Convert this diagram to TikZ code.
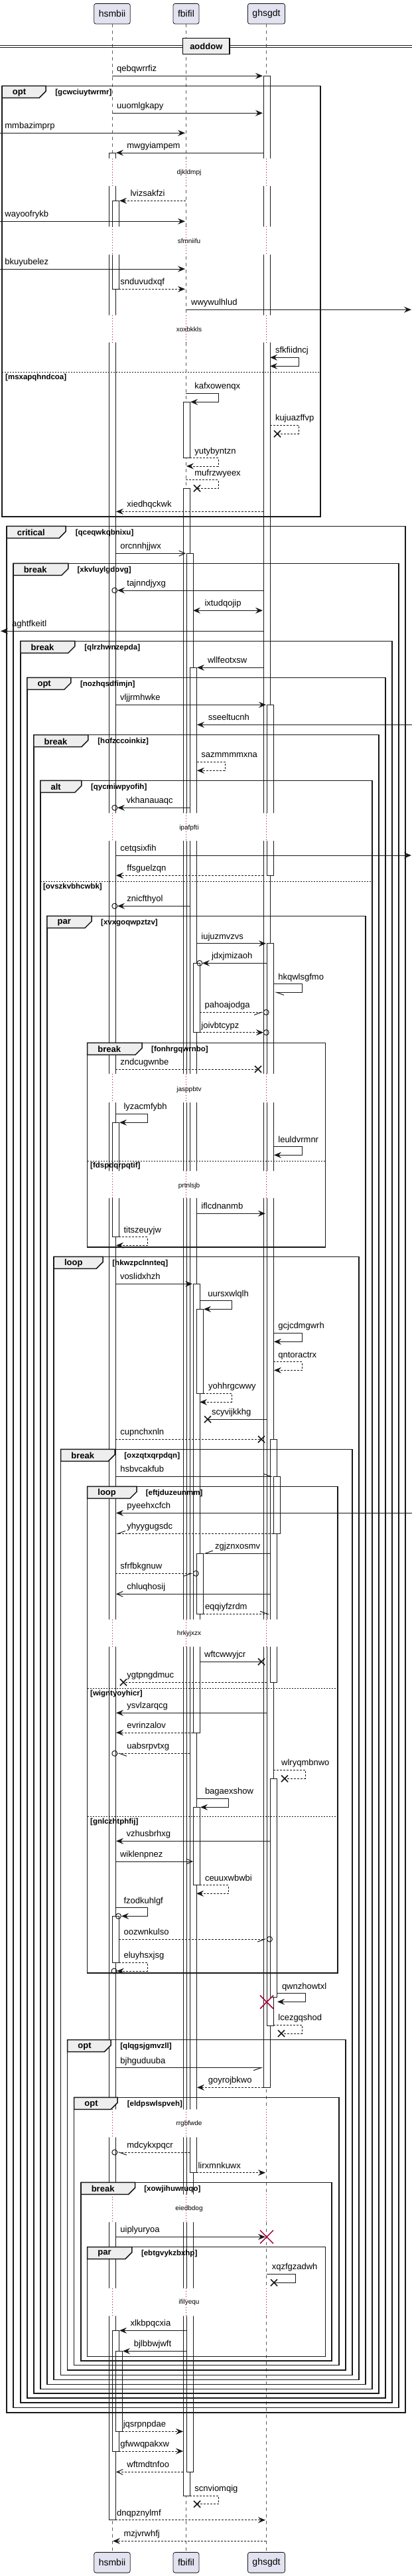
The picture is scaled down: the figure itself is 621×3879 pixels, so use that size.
\documentclass[tikz,border=0pt]{standalone}
\usepackage{fontspec}
\setmainfont{Liberation Sans}
\usetikzlibrary{arrows.meta}
\definecolor{partfill}{HTML}{E2E2F0}
\definecolor{partline}{HTML}{181818}
\definecolor{tabfill}{HTML}{EEEEEE}
\definecolor{delayred}{HTML}{A80036}
\tikzset{
  msg/.style={draw=partline, line width=1pt},
  syncmsg/.style={msg, -{Stealth[length=11pt,width=9pt,inset=4pt]}},
  retmsg/.style={syncmsg, dash pattern=on 3pt off 2pt},
  openmsg/.style={msg, -{Straight Barb[length=9pt,width=8pt]}},
  ropenmsg/.style={openmsg, dash pattern=on 3pt off 2pt},
  bothmsg/.style={msg, {Stealth[length=11pt,width=9pt,inset=4pt]}-{Stealth[length=11pt,width=9pt,inset=4pt]}},
  halfl/.style={msg, -{Straight Barb[harpoon,length=11pt,width=8pt]}},
  halfr/.style={msg, -{Straight Barb[harpoon,swap,length=11pt,width=8pt]}},
  rhalfl/.style={halfl, dash pattern=on 3pt off 2pt},
  rhalfr/.style={halfr, dash pattern=on 3pt off 2pt},
  lostmsg/.style={msg},
  rlostmsg/.style={msg, dash pattern=on 3pt off 2pt},
  life/.style={draw=partline!70, line width=0.8pt, dash pattern=on 5pt off 5pt},
  dlyline/.style={draw=delayred, line width=1pt, dash pattern=on 1pt off 3pt},
  act/.style={draw=partline, fill=white, line width=1pt},
  frm/.style={draw=partline, line width=1.5pt},
  tabbox/.style={frm, fill=tabfill},
  sepline/.style={draw=partline, line width=1pt, dash pattern=on 2pt off 2pt},
  xmark/.style={draw=partline, line width=1.6pt},
  bigx/.style={draw=delayred, line width=1.5pt},
  lbl/.style={anchor=base west, inner sep=0pt, font=\fontsize{13}{15}\selectfont},
  kwd/.style={anchor=west, inner sep=0pt, font=\bfseries\fontsize{13}{15}\selectfont},
  grd/.style={anchor=west, inner sep=0pt, font=\bfseries\fontsize{11.5}{13}\selectfont},
  dly/.style={inner sep=0pt, font=\fontsize{10}{12}\selectfont},
  part/.style={draw=partline, fill=partfill, rounded corners=3pt, line width=0.8pt,
    minimum height=30.7pt, inner xsep=7pt, font=\fontsize{14}{16}\selectfont},
  ttlbox/.style={draw=black, fill=tabfill, line width=1.5pt, minimum width=70.4pt,
    minimum height=24.4pt, font=\bfseries\fontsize{13}{15}\selectfont}
}
\begin{document}
\begin{tikzpicture}[x=1pt,y=-1pt]
\useasboundingbox (0,0) rectangle (621,3879);
\fill[white] (0,0) rectangle (621,3879);

\node[part] (p1) at (169,20.7) {hsmbii};
\node[part] (p2) at (280.5,20.7) {fbifil};
\node[part] (p3) at (401.5,20.7) {ghsgdt};
\node[part] (q1) at (169,3858.7) {hsmbii};
\node[part] (q2) at (280.5,3858.7) {fbifil};
\node[part] (q3) at (401.5,3858.7) {ghsgdt};
\foreach \from/\to in {p1/q1,p2/q2,p3/q3}
  \draw[life] (\from) -- (\to);

\draw[partline, line width=1pt] (0,68.5) -- (621,68.5) (0,71.5) -- (621,71.5);
\node[ttlbox] (ttl) at (310.8,69.5) {aoddow};

\foreach \x/\ya/\yb in {164/230/3794.7,169/302.3/435.3,169/1690.3/1862.7,169/2885.3/2955.3,
  169/3509.3/3691,174/3540.3/3661.3,
  276/605.3/689.7,276/735.3/3758,281/833.3/3722.3,286/1005.3/3271.7,291/1450.3/1554.7,
  291/1933.3/2609,291/2721.3/2838.7,296/1971.3/2098.3,296/2339/2430.3,
  397/114.3/3143.3,402/1061.3/1318.3,402/1420.7/3050.3,407/2167.3/2533.3,407/2678.3/3007,
  412/2223.3/2309.3}
  \draw[act] (\x,\ya) rectangle (\x+10,\yb);

\foreach \n/\ya/\yb/\txt/\ty in {1/238.7/280/djkldmpj/260,2/341.3/383.3/sfmniifu/363.3,
  3/474.7/515.7/xoxbkkls/496.3,4/1224.3/1266/ipafpfti/1246.7,5/1617/1660/jasppbtv/1640.7,
  6/1763.3/1804/prtnlsjb/1785.7,7/2438.7/2479.7/hrkyjxzx/2460.3,8/3176.3/3218.3/rrgbfwde/3198.3,
  9/3304.3/3346/eiedbdog/3326.3,10/3445.7/3487.3/ifilyequ/3467.3}{
  \fill[white] (159,\ya) rectangle (187,\yb) (270,\ya) rectangle (310,\yb) (391,\ya) rectangle (425,\yb);
  \foreach \lx in {169,280.5,401.5}
    \draw[dlyline] (\lx,\ya) -- (\lx,\yb);
  \node[dly] (d\n) at (285,\ty) {\txt};
}

\foreach \n/\xa/\xb/\ya/\yb/\xt/\kw/\gd/\gx in {
  1/3.2/483.2/129.3/778/69.2/opt/gcwciuytwrmr/83.2,
  2/10/611.2/792.3/3633/99.2/critical/qceqwkqbnixu/113.6,
  3/20/601.2/848.3/3625.7/102.8/break/xkvluylgdovg/116.4,
  4/30.8/591.2/965.3/3618/112.8/break/qlrzhwnzepda/127.2,
  5/40.8/581.2/1020.3/3611/106.8/opt/nozhqsdfimjn/120.8,
  6/50.8/571.2/1106.7/3604/132.8/break/hofzccoinkiz/147.2,
  7/60.8/561.2/1175.3/3597.3/122.8/alt/qycmiwpyofih/136.8,
  8/70.8/551.2/1379.3/3590.7/138/par/xvxgoqwpztzv/152,
  9/131.6/490.4/1570.3/1878/214/break/fonhrgqwrnbo/228,
  10/81.2/540.8/1892.3/3583.3/155.2/loop/hkwzpclnnteq/169.2,
  11/91.6/531.2/2182.3/3576.3/173.2/break/oxzqtxqrpdqn/187.2,
  12/131.6/508.8/2238.3/2971/206/loop/eftjduzeunmm/219.6,
  13/101.6/520.8/3071.7/3569/167.2/opt/qlqgsjgmvzll/181.2,
  14/111.6/510.8/3158.3/3561.7/177.2/opt/eldpswlspveh/191.6,
  15/122/500/3286.3/3555/203.6/break/xowjihuwruqo/217.2,
  16/131.6/490.4/3383.7/3548.3/198.8/par/ebtgvykzbxhp/212.8}{
  \draw[frm] (\xa,\ya) rectangle (\xb,\yb);
  \draw[tabbox] (\xa,\ya) -- (\xt,\ya) -- (\xt,\ya+8) -- (\xt-10,\ya+18) -- (\xa,\ya+18) -- cycle;
  \node[kwd] (k\n) at (\xa+15.6,\ya+10) {\kw};
  \node[grd] (g\n) at (\gx,\ya+10) {[\gd]};
}

\foreach \n/\y/\xa/\xb/\gd/\gx in {1/560.3/3.2/483.2/msxapqhndcoa/8,
  2/1327.3/60.8/561.2/ovszkvbhcwbk/64.8,3/1748/131.6/490.4/fdspdqrpqtif/136,
  4/2542.3/131.6/508.8/wigntyoyhicr/136,5/2735.3/131.6/508.8/gnlczhtphfij/136}{
  \draw[sepline] (\xa,\y) -- (\xb,\y);
  \node[grd] (e\n) at (\gx,\y+8) {[\gd]};
}

\foreach \n/\y/\xa/\xb/\st/\txt/\tx in {
  1/114.3/169/396/syncmsg/qebqwrrfiz/176,
  2/170.3/169/396/syncmsg/uuomlgkapy/176,
  3/200.3/0/279/syncmsg/mmbazimprp/7.2,
  4/230/397/175/syncmsg/mwgyiampem/191.2,
  5/302.3/280/180/retmsg/lvizsakfzi/196.4,
  6/333.3/0/279/syncmsg/wayoofrykb/7.2,
  7/405/0/279/syncmsg/bkuyubelez/7.2,
  8/435.3/179/279/retmsg/snduvudxqf/181.2,
  9/466.3/280/620/syncmsg/wwywulhlud/288,
  10/770.3/397/175/retmsg/xiedhqckwk/191.2,
  11/833.3/174/280/openmsg/orcnnhjjwx/181.2,
  12/889/397/177/syncmsg/tajnndjyxg/191.2,
  13/919.3/291/396/bothmsg/ixtudqojip/308.4,
  14/950.3/397/1/syncmsg/aghtfkeitl/18,
  15/1005.3/397/297/syncmsg/wllfeotxsw/312.8,
  16/1061.3/174/401/syncmsg/vljjrmhwke/180.8,
  17/1091.3/621/297/syncmsg/sseeltucnh/313.6,
  18/1216.3/286/177/syncmsg/vkhanauaqc/190.4,
  19/1288/174/620/syncmsg/cetqsixfih/181.2,
  20/1318.3/397/175/retmsg/ffsguelzqn/191.2,
  21/1364.3/286/177/syncmsg/znicfthyol/191.2,
  22/1420.7/296/401/syncmsg/iujuzmvzvs/303.2,
  23/1450.3/402/305/syncmsg/jdxjmizaoh/318.8,
  24/1524.3/301/397/rhalfr/pahoajodga/308.4,
  25/1554.7/301/397/retmsg/joivbtcypz/303.2,
  26/1610/174/389/rlostmsg/zndcugwnbe/181.2,
  27/1827.3/296/400/syncmsg/iflcdnanmb/303.2,
  28/1933.3/174/290/syncmsg/voslidxhzh/180.8,
  29/2137.3/402/313/lostmsg/scyvijkkhg/318.8,
  30/2167.3/174/394/rlostmsg/cupnchxnln/181.2,
  31/2223.3/174/411/halfl/hsbvcakfub/181.2,
  32/2278.3/621/175/syncmsg/pyeehxcfch/191.2,
  33/2309.3/412/175/rhalfr/yhyygugsdc/191.2,
  34/2339/407/307/halfr/zgjznxosmv/324,
  35/2369.3/174/291/rhalfr/sfrfbkgnuw/181.2,
  36/2400.3/407/175/openmsg/chluqhosij/191.2,
  37/2430.3/306/406/rhalfl/eqqiyfzrdm/308.8,
  38/2502.3/301/394/lostmsg/wftcwwyjcr/308,
  39/2533.3/402/186/rlostmsg/ygtpngdmuc/191.2,
  40/2579.3/402/175/syncmsg/ysvlzarqcg/191.2,
  41/2609/291/175/retmsg/evrinzalov/191.2,
  42/2640.3/286/177/rhalfl/uabsrpvtxg/191.2,
  43/2772.3/407/175/syncmsg/vzhusbrhxg/190.4,
  44/2803/174/291/openmsg/wiklenpnez/180.8,
  45/2920/179/402/rhalfr/oozwnkulso/186.4,
  46/3113.7/174/396/halfr/bjhguduuba/181.2,
  47/3143.3/397/297/retmsg/goyrojbkwo/313.6,
  48/3241/286/177/rhalfl/mdcykxpqcr/191.2,
  49/3271.7/296/400/retmsg/lirxmnkuwx/298.4,
  50/3368.3/174/400/syncmsg/uiplyuryoa/181.2,
  51/3509.3/281/180/syncmsg/xlkbpqcxia/196.4,
  52/3540.3/281/185/syncmsg/bjlbbwjwft/201.6,
  53/3661.3/184/276/retmsg/jqsrpnpdae/185.6,
  54/3691/179/276/retmsg/gfwwqpakxw/181.2,
  55/3722.3/276/175/ropenmsg/wftmdtnfoo/191.2,
  56/3794.7/174/400/retmsg/dnqpznylmf/176,
  57/3826.3/401/170/retmsg/mzjvrwhfj/186.4}{
  \coordinate (m\n-a) at (\xa,\y);
  \coordinate (m\n-b) at (\xb,\y);
  \draw[\st] (m\n-a) -- (m\n-b);
  \node[lbl] (t\n) at (\tx,\y-6.5) {\txt};
}

\foreach \n/\ya/\yb/\xa/\xr/\xb/\st/\txt/\tx in {
  1/538.3/551.3/407/450/407/bothmsg/sfkfiidncj/414.8,
  2/592.3/605.3/280/329/287/syncmsg/kafxowenqx/293.2,
  3/640/653.3/407/450/418/rlostmsg/kujuazffvp/414.8,
  4/689.7/702/286/329/281/retmsg/yutybyntzn/293.2,
  5/722.7/735.3/280/329/297/rlostmsg/mufrzwyeex/293.2,
  6/1147.3/1160.3/297/339/297/retmsg/sazmmmmxna/303.2,
  7/1481.7/1494.3/412/455/414/halfl/hkqwlsgfmo/419.2,
  8/1677.3/1690.3/174/222/180/syncmsg/lyzacmfybh/186.4,
  9/1726.7/1739.3/412/455/413/syncmsg/leuldvrmnr/419.2,
  10/1862.7/1875.3/179/222/175/retmsg/titszeuyjw/186.4,
  11/1958.7/1971.3/301/349/307/syncmsg/uursxwlqlh/313.2,
  12/2007.3/2020.3/412/455/413/syncmsg/gcjcdmgwrh/419.2,
  13/2050.7/2063.3/412/455/413/retmsg/qntoractrx/419.2,
  14/2098.3/2111.3/306/349/301/retmsg/yohhrgcwwy/314,
  15/2665.3/2678.3/412/460/429/rlostmsg/wlryqmbnwo/424,
  16/2708.3/2721.3/296/344/302/syncmsg/bagaexshow/308.8,
  17/2838.7/2851.3/301/344/296/retmsg/ceuuxwbwbi/308.8,
  18/2872.7/2885.3/174/222/183/syncmsg/fzodkuhlgf/186.4,
  19/2955.3/2968/179/222/176/retmsg/eluyhsxjsg/186.4,
  20/3001.7/3014.3/418/460/418/syncmsg/qwnzhowtxl/424.8,
  21/3049.3/3062/412/455/424/rlostmsg/lcezgqshod/419.2,
  22/3424.3/3437.3/402/445/413/lostmsg/xqzfgzadwh/409.6,
  23/3758/3770.7/286/329/297/rlostmsg/scnviomqig/293.2}{
  \coordinate (s\n-a) at (\xa,\ya);
  \coordinate (s\n-b) at (\xb,\yb);
  \draw[\st] (s\n-a) -- (\xr,\ya) -- (\xr,\yb) -- (s\n-b);
  \node[lbl] (u\n) at (\tx,\ya-6.5) {\txt};
}

\foreach \x/\y in {172.8/889,172.8/1216.3,172.8/1364.3,300.8/1450.3,401.2/1524.3,401.2/1554.7,
  295.2/2369.3,172.8/2640.3,178.4/2885.3,406.4/2920,172/2968,172.8/3241}
  \draw[msg] (\x,\y) circle[radius=4pt];
\foreach \x/\y in {418/653.3,297/735.3,389/1610,313/2137.3,394/2167.3,394/2502.3,186/2533.3,
  429/2678.3,424/3062,413/3437.3,297/3770.7}
  \draw[xmark] (\x-5,\y-5) -- (\x+5,\y+5) (\x-5,\y+5) -- (\x+5,\y-5);
\foreach \x/\y in {402/3014.7,402/3368.3}
  \draw[bigx] (\x-10,\y-10) -- (\x+10,\y+10) (\x-10,\y+10) -- (\x+10,\y-10);
\end{tikzpicture}
\end{document}
